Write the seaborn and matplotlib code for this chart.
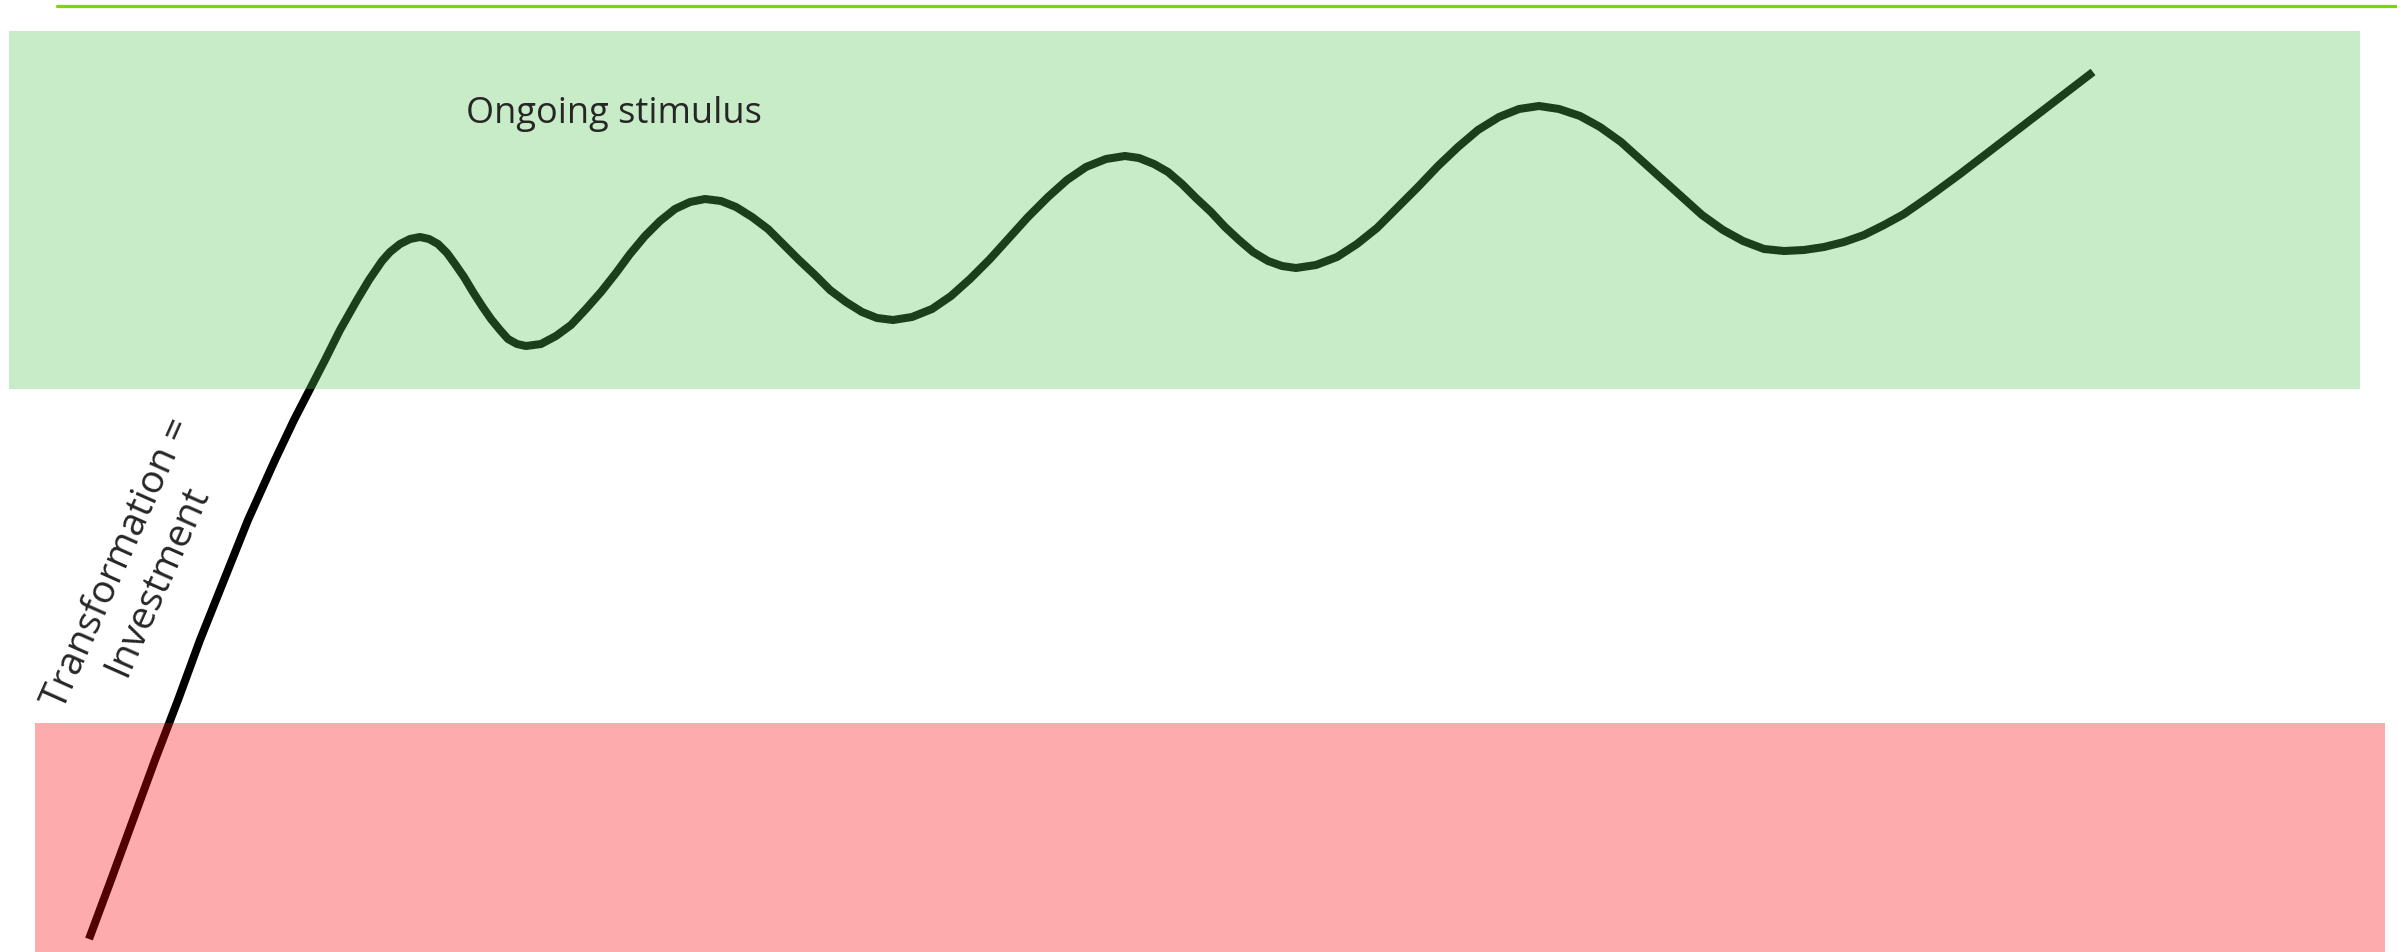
import matplotlib
matplotlib.use("Agg")
import matplotlib.pyplot as plt
import seaborn as sns
import pandas as pd

# ------------------ Data (pixel space) ------------------

# steep climb out of the red zone
rise_x = [89, 111, 133, 155, 178, 200, 224, 248, 275, 294, 310, 325, 340, 357, 369, 382,
          390, 400, 410, 420]
rise_y = [939, 880, 820, 760, 700, 640, 580, 520, 460, 420, 389, 360, 330, 300, 280, 261,
          252, 244, 239, 237]

# the waves inside the green zone
wave_x = [429, 438, 447, 455, 464, 473, 482, 491, 500, 508, 517, 526,
          541, 556, 571, 586, 601, 616, 630, 645, 660, 675, 690, 705,
          721, 736, 752, 768, 783, 799, 815, 830, 846, 862, 877, 893,
          912, 932, 951, 970, 990, 1009, 1028, 1048, 1067, 1086, 1106, 1125,
          1139, 1154, 1168, 1182, 1196, 1211, 1225, 1239, 1253, 1268, 1282, 1296,
          1316, 1337, 1357, 1377, 1397, 1418, 1438, 1458, 1478, 1499, 1519, 1539,
          1559, 1580, 1600, 1621, 1641, 1662, 1682, 1702, 1723, 1743, 1764, 1784]
wave_y = [239, 244, 253, 264, 277, 292, 306, 319, 330, 339, 344, 346,
          344, 336, 325, 309, 292, 273, 254, 236, 221, 209, 202, 199,
          201, 207, 217, 229, 244, 260, 275, 290, 302, 312, 318, 320,
          317, 309, 296, 279, 259, 238, 217, 197, 180, 167, 159, 156,
          158, 164, 172, 184, 198, 212, 227, 240, 252, 261, 266, 268,
          265, 257, 244, 228, 208, 187, 166, 147, 130, 117, 109, 106,
          109, 116, 127, 142, 160, 179, 197, 215, 230, 241, 249, 251]

# final climb to the end
tail_x = [1804, 1824, 1844, 1864, 1884, 1904, 1930, 1960, 1990, 2020, 2050, 2093]
tail_y = [250, 247, 242, 235, 225, 214, 196, 174, 151, 128, 105, 72]

# zones: [x0, x1, y0, y1]
good_zone = [9, 2360, 31, 389]
bad_zone = [35, 2385, 723, 952]

top_rule_x = [57, 2397]
top_rule_y = [5.5, 5.5]

label_top = "Ongoing stimulus"
label_side = "Transformation =\nInvestment"

df = pd.DataFrame({"x": rise_x + wave_x + tail_x,
                   "y": rise_y + wave_y + tail_y})

# ----------------- Figure -----------------

sns.set_style("white")
plt.rcParams["font.family"] = ["Open Sans", "DejaVu Sans"]

fig = plt.figure(figsize=(23.97, 9.52), dpi=100)
ax = fig.add_axes([0, 0, 1, 1])

sns.lineplot(data=df, x="x", y="y", sort=False, estimator=None,
             color="black", linewidth=5.8, ax=ax, zorder=1)
ax.lines[-1].set_solid_capstyle("butt")
ax.lines[-1].set_solid_joinstyle("round")

# translucent zones drawn over the curve
ax.fill_between([good_zone[0], good_zone[1]], good_zone[2], good_zone[3],
                color="#52C552", alpha=0.32, linewidth=0, zorder=2)
ax.fill_between([bad_zone[0], bad_zone[1]], bad_zone[2], bad_zone[3],
                color="#FA0004", alpha=0.33, linewidth=0, zorder=2)

ax.plot(top_rule_x, top_rule_y, color="#7ED600", linewidth=2.3, zorder=3)

ax.text(466, 123, label_top, fontsize=26, ha="left", va="baseline", zorder=4)
ax.text(138, 572, label_side, fontsize=28, ha="center", va="center",
        multialignment="center", rotation=66, rotation_mode="anchor",
        linespacing=1.2, zorder=4)

ax.set_xlim(0, 2397)
ax.set_ylim(952, 0)
ax.axis("off")

plt.savefig("out.png", dpi=100)
